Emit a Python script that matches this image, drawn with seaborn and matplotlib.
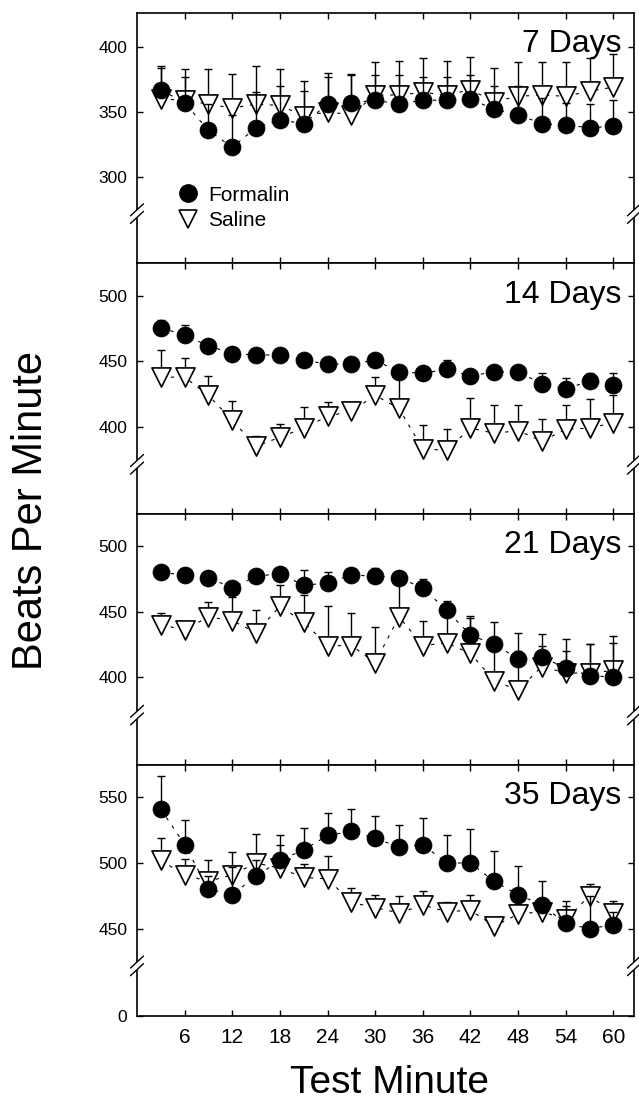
import numpy as np
import pandas as pd
import matplotlib
matplotlib.use("Agg")
import matplotlib.pyplot as plt
import seaborn as sns
from matplotlib.lines import Line2D

# ---------------- data ----------------
minutes = [3, 6, 9, 12, 15, 18, 21, 24, 27, 30, 33, 36, 39, 42, 45, 48, 51, 54, 57, 60]
x_ticks = [6, 12, 18, 24, 30, 36, 42, 48, 54, 60]
panel_titles = ["7 Days", "14 Days", "21 Days", "35 Days"]

f7 = [367, 357, 336, 323, 338, 344, 341, 356, 357, 359, 356, 359, 359, 360, 352, 348, 341, 340, 338, 339]
f7_err = [18, 20, 20, 25, 27, 26, 25, 21, 21, 19, 22, 18, 18, 18, 18, 22, 20, 17, 18, 20]
s7 = [360, 359, 356, 353, 356, 355, 347, 350, 348, 363, 363, 365, 363, 367, 358, 362, 363, 362, 366, 369]
s7_err = [24, 24, 27, 26, 29, 28, 27, 30, 31, 25, 26, 26, 26, 25, 26, 26, 25, 26, 25, 25]

f14 = [476, 470, 462, 456, 455, 455, 451, 448, 448, 451, 442, 441, 444, 439, 442, 442, 433, 429, 435, 432]
f14_err = [6, 8, 3, 3, 3, 3, 3, 3, 3, 3, 3, 3, 7, 3, 3, 3, 8, 8, 6, 9]
s14 = [438, 438, 424, 405, 385, 392, 399, 408, 412, 424, 414, 383, 382, 399, 395, 397, 389, 398, 399, 403]
s14_err = [21, 15, 15, 15, 8, 10, 16, 11, 2, 14, 28, 18, 16, 23, 22, 20, 17, 19, 22, 21]

f21 = [480, 478, 476, 468, 477, 479, 470, 472, 478, 477, 476, 468, 451, 432, 425, 414, 415, 407, 401, 400]
f21_err = [3, 3, 3, 3, 3, 3, 12, 8, 3, 6, 3, 7, 7, 15, 17, 20, 9, 13, 24, 26]
s21 = [440, 436, 446, 443, 434, 454, 442, 424, 424, 411, 446, 424, 426, 418, 397, 390, 408, 403, 403, 405]
s21_err = [9, 2, 11, 18, 17, 16, 21, 30, 25, 27, 29, 19, 22, 27, 27, 30, 25, 26, 22, 26]

f35 = [541, 514, 480, 476, 490, 502, 510, 521, 524, 519, 512, 514, 500, 500, 486, 476, 468, 454, 450, 453]
f35_err = [25, 19, 10, 21, 12, 12, 17, 17, 17, 17, 17, 20, 21, 26, 23, 22, 18, 17, 25, 10]
s35 = [502, 491, 486, 491, 500, 496, 489, 488, 470, 466, 462, 468, 463, 464, 452, 461, 463, 457, 475, 462]
s35_err = [17, 12, 16, 17, 22, 25, 10, 17, 11, 10, 13, 11, 7, 12, 7, 8, 6, 10, 9, 9]

formalin = [f7, f14, f21, f35]
formalin_err = [f7_err, f14_err, f21_err, f35_err]
saline = [s7, s14, s21, s35]
saline_err = [s7_err, s14_err, s21_err, s35_err]

y_limits = [(234.3, 426.1), (333.2, 525.2), (332.9, 524.6), (383.9, 574.8)]
y_ticks = [[300, 350, 400], [400, 450, 500], [400, 450, 500], [450, 500, 550]]

# ---------------- style ----------------
sns.set_theme(style="ticks")
plt.rcParams['font.family'] = ['Liberation Sans', 'DejaVu Sans']
plt.rcParams['text.color'] = 'black'

W, H = 639, 1112
fig, axes = plt.subplots(4, 1, figsize=(W / 100, H / 100), dpi=100, sharex=True,
                         gridspec_kw=dict(hspace=0))
fig.subplots_adjust(left=137 / W, right=634 / W, top=1 - 12.5 / H, bottom=1 - 1015.5 / H)


def add_break(ax, frac=0.198):
    bbox = ax.get_window_extent()
    pw, ph = bbox.width, bbox.height
    dx, dy, sep, gap = 6.5 / pw, 6.0 / ph, 3.8 / ph, 4.0 / ph
    for xs in (0.0, 1.0):
        ax.plot([xs, xs], [frac - gap, frac + gap], color='white', lw=3,
                transform=ax.transAxes, clip_on=False, zorder=10, solid_capstyle='butt')
        for off in (-sep, sep):
            ax.plot([xs - dx, xs + dx], [frac + off - dy, frac + off + dy], color='black',
                    lw=1.0, transform=ax.transAxes, clip_on=False, zorder=11)


for i, ax in enumerate(axes):
    df = pd.DataFrame({'minute': minutes, 'formalin': formalin[i], 'saline': saline[i]})
    # sparse dashed connecting lines
    sns.lineplot(data=df, x='minute', y='formalin', ax=ax, color='black', lw=0.8,
                 dashes=False, zorder=1)
    sns.lineplot(data=df, x='minute', y='saline', ax=ax, color='black', lw=0.8,
                 dashes=False, zorder=1)
    for ln in ax.lines:
        ln.set_linestyle((0, (3, 6)))

    # saline error bars (upper only)
    _, caps, _ = ax.errorbar(minutes, saline[i], yerr=[np.zeros(len(minutes)), saline_err[i]],
                             fmt='none', ecolor='black', elinewidth=1.0, capsize=2.8,
                             capthick=1.0, zorder=2)
    caps[0].set_visible(False)
    sns.scatterplot(data=df, x='minute', y='saline', ax=ax, marker='v', s=190,
                    facecolor='white', edgecolor='black', linewidth=1.2, zorder=3)
    _, caps, _ = ax.errorbar(minutes, formalin[i], yerr=[np.zeros(len(minutes)), formalin_err[i]],
                             fmt='none', ecolor='black', elinewidth=1.0, capsize=2.8,
                             capthick=1.0, zorder=4)
    caps[0].set_visible(False)
    sns.scatterplot(data=df, x='minute', y='formalin', ax=ax, marker='o', s=150,
                    color='black', edgecolor='black', linewidth=0.5, zorder=5)

    ax.set_xlim(0, 62.6)
    ax.set_ylim(*y_limits[i])
    if i == 3:
        ax.set_yticks([y_limits[i][0]] + y_ticks[i], labels=['0'] + [str(v) for v in y_ticks[i]])
    else:
        ax.set_yticks(y_ticks[i])
    ax.set_xticks(x_ticks)
    ax.tick_params(axis='both', direction='in', length=4.5, width=1.0, color='black',
                   labelcolor='black', top=True, right=True)
    ax.tick_params(axis='y', labelsize=12.5, pad=7)
    ax.tick_params(axis='x', labelsize=15, pad=9)
    ax.set_xlabel('')
    ax.set_ylabel('')
    for sp in ax.spines.values():
        sp.set_visible(True)
        sp.set_linewidth(1.2)
        sp.set_color('black')
    ax.text(0.975, 0.935, panel_titles[i], transform=ax.transAxes, ha='right', va='top',
            fontsize=23, color='black')

fig.canvas.draw()
for ax in axes:
    add_break(ax)

handles = [Line2D([], [], marker='o', color='black', ls='none', markersize=12.5),
           Line2D([], [], marker='v', markerfacecolor='white', markeredgecolor='black',
                  markeredgewidth=1.2, ls='none', markersize=13.5)]
axes[0].legend(handles, ['Formalin', 'Saline'], loc='lower left', bbox_to_anchor=(0.065, 0.1),
               frameon=False, fontsize=15, handletextpad=0.45, labelspacing=0.3,
               borderaxespad=0, handlelength=1.0, labelcolor='black')

fig.text(31 / W, 1 - 510 / H, 'Beats Per Minute', rotation=90, ha='center', va='center',
         fontsize=30, color='black')
fig.text(389 / W, 1 - 1083 / H, 'Test Minute', ha='center', va='center',
         fontsize=28, color='black')

fig.savefig('out.png', dpi=100, facecolor='white')
